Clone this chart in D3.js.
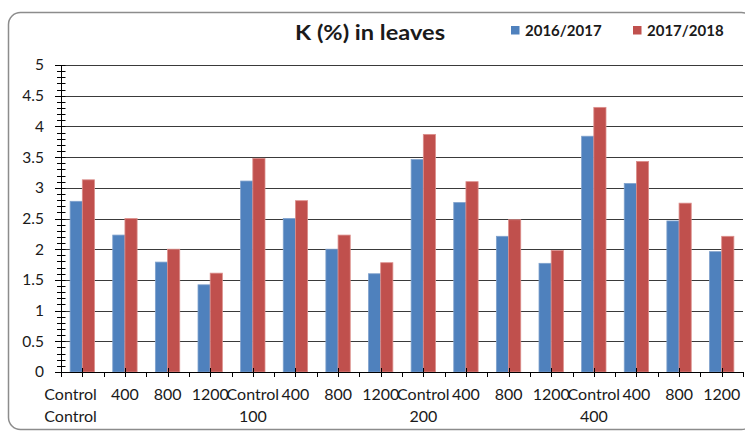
<!DOCTYPE html>
<html>
<head>
<meta charset="utf-8">
<script src="https://cdn.jsdelivr.net/npm/d3@7"></script>
<style>
  html, body { margin: 0; padding: 0; background: #fff; }
  svg { display: block; }
  text { font-family: Lato, "Open Sans", sans-serif; fill: #1a1a1a; }
</style>
</head>
<body>
<svg id="chart" width="745" height="433"></svg>
<script>
// Category labels (two-line labels: dose / group)
const categories = [
  "Control\nControl", "400", "800", "1200",
  "Control\n100", "400 ", "800 ", "1200 ",
  "Control\n200", "400  ", "800  ", "1200  ",
  "Control\n400", "400   ", "800   ", "1200   "
];
const seriesNames = ["2016/2017", "2017/2018"];
const values2016 = [2.78, 2.23, 1.79, 1.42, 3.11, 2.50, 2.00, 1.60, 3.46, 2.76, 2.21, 1.77, 3.84, 3.07, 2.46, 1.96];
const values2017 = [3.13, 2.50, 2.00, 1.61, 3.48, 2.79, 2.23, 1.78, 3.87, 3.10, 2.48, 1.98, 4.31, 3.43, 2.75, 2.21];
const yTicks = [0, 0.5, 1, 1.5, 2, 2.5, 3, 3.5, 4, 4.5, 5];
const colors = ["#4F81BD", "#C0504D"];
const strokes = ["#7fa1cc", "#dc8f8c"];

const svg = d3.select("#chart");
const margin = { left: 61, right: 2, top: 65, bottom: 61 };
const W = 745, H = 433;
const plotW = W - margin.left - margin.right;
const plotH = H - margin.top - margin.bottom;

// Chart frame
svg.append("rect")
  .attr("x", 8.5).attr("y", 12.5)
  .attr("width", 745).attr("height", 417)
  .attr("rx", 12).attr("ry", 12)
  .attr("fill", "#fff").attr("stroke", "#8c8c8c").attr("stroke-width", 1.5);

const x = d3.scaleBand().domain(categories).range([0, plotW]).paddingInner(0).paddingOuter(0);
const inner = d3.scaleBand().domain([0, 1]).range([0, x.bandwidth() / 1.75]);
const y = d3.scaleLinear().domain([0, 5]).range([plotH, 0]);

const g = svg.append("g").attr("transform", `translate(${margin.left},${margin.top})`);

// Horizontal gridlines
g.append("g").selectAll("line").data(yTicks.filter(d => d > 0)).join("line")
  .attr("x1", 0).attr("x2", plotW)
  .attr("y1", d => Math.round(y(d)) + 0.5).attr("y2", d => Math.round(y(d)) + 0.5)
  .attr("stroke", "#3a3a3a").attr("stroke-width", 1);

// Bars
const groupOffset = (x.bandwidth() - x.bandwidth() / 1.75) / 2;
[values2016, values2017].forEach((vals, si) => {
  g.append("g").selectAll("rect").data(vals).join("rect")
    .attr("x", (d, i) => x(categories[i]) + groupOffset + inner(si))
    .attr("y", d => y(d))
    .attr("width", inner.bandwidth())
    .attr("height", d => y(0) - y(d))
    .attr("fill", colors[si])
    .attr("stroke", strokes[si]).attr("stroke-width", 0.8);
});

// Y axis: major ticks outside, minor ticks crossing
const yAxis = g.append("g");
yAxis.append("line").attr("x1", 0.5).attr("x2", 0.5).attr("y1", 0).attr("y2", plotH)
  .attr("stroke", "#000");
const minor = d3.range(0, 5.0001, 0.1);
yAxis.selectAll("line.minor").data(minor).join("line").attr("class", "minor")
  .attr("x1", -4).attr("x2", 4.5)
  .attr("y1", d => Math.round(y(d)) + 0.5).attr("y2", d => Math.round(y(d)) + 0.5)
  .attr("stroke", "#000");
yAxis.selectAll("line.major").data(yTicks).join("line").attr("class", "major")
  .attr("x1", -6).attr("x2", 0)
  .attr("y1", d => Math.round(y(d)) + 0.5).attr("y2", d => Math.round(y(d)) + 0.5)
  .attr("stroke", "#000");
yAxis.selectAll("text").data(yTicks).join("text")
  .attr("x", -17).attr("y", d => y(d)).attr("dy", "0.35em")
  .attr("text-anchor", "end").style("font-size", "15.5px")
  .text(d => d);

// X axis
const xAxis = g.append("g").attr("transform", `translate(0,${plotH})`);
xAxis.append("line").attr("x1", 0).attr("x2", plotW).attr("y1", 0.5).attr("y2", 0.5).attr("stroke", "#000");
const bounds = categories.map(c => x(c)).concat([plotW]);
xAxis.selectAll("line.bt").data(bounds).join("line").attr("class", "bt")
  .attr("x1", d => Math.round(d) + 0.5).attr("x2", d => Math.round(d) + 0.5)
  .attr("y1", 0).attr("y2", 5).attr("stroke", "#000");
xAxis.selectAll("line.ct").data(categories).join("line").attr("class", "ct")
  .attr("x1", d => Math.round(x(d) + x.bandwidth() / 2) + 0.5)
  .attr("x2", d => Math.round(x(d) + x.bandwidth() / 2) + 0.5)
  .attr("y1", -4).attr("y2", 5).attr("stroke", "#000");

const labels = xAxis.selectAll("text").data(categories).join("text")
  .attr("text-anchor", (d, i) => i === 0 ? "end" : "middle")
  .attr("x", (d, i) => i === 0 ? x(d) + x.bandwidth() * 0.84 : x(d) + x.bandwidth() / 2)
  .attr("y", 28)
  .style("font-size", "16px");
labels.each(function(d) {
  const lines = d.trim().split("\n");
  const t = d3.select(this);
  lines.forEach((ln, k) => {
    t.append("tspan").attr("x", t.attr("x")).attr("dy", k === 0 ? 0 : 22).text(ln);
  });
});

// Title
svg.append("text").attr("x", 370).attr("y", 40)
  .attr("text-anchor", "middle")
  .attr("textLength", 150).attr("lengthAdjust", "spacingAndGlyphs")
  .style("font-size", "21px").style("font-weight", "bold")
  .text("K (%) in leaves");

// Legend
const legendX = [511, 633];
seriesNames.forEach((name, i) => {
  svg.append("rect").attr("x", legendX[i]).attr("y", 26).attr("width", 8.5).attr("height", 8.5)
    .attr("fill", colors[i]);
  svg.append("text").attr("x", legendX[i] + 14).attr("y", 35.5)
    .style("font-size", "15px").style("font-weight", "bold")
    .text(name);
});
</script>
</body>
</html>
